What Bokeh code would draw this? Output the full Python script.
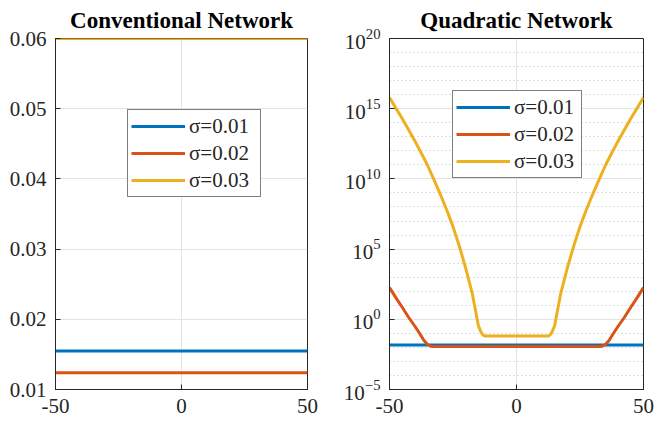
from bokeh.plotting import figure
from bokeh.layouts import row
from bokeh.models import Range1d, FixedTicker, Legend, LegendItem
from bokeh.embed import file_html
from bokeh.resources import INLINE

FONT = "Liberation Serif"
COLORS = ["#0072BD", "#D95319", "#EDB120"]
labels = ["σ=0.01", "σ=0.02", "σ=0.03"]

# Conventional network (left)
conv_x = [-50, 50]
conv_s1 = [0.0155, 0.0155]
conv_s2 = [0.0124, 0.0124]
conv_s3 = [0.06, 0.06]

# Quadratic network (right)
quad_x_s1 = [-50, 50]
quad_s1 = [0.015, 0.015]

quad_x_s2 = [-50, -47.5, -45, -42.5, -40, -38, -36.5, -35, -34, -33, 0,
             33, 34, 35, 36.5, 38, 40, 42.5, 45, 47.5, 50]
quad_s2 = [180, 35, 7.2, 1.4, 0.32, 0.09, 0.032, 0.016, 0.0126, 0.0115, 0.0115,
           0.0115, 0.0126, 0.016, 0.032, 0.09, 0.32, 1.4, 7.2, 35, 180]

quad_x_s3 = [-50, -47.5, -45, -42.5, -40, -37.5, -35, -32.5, -30, -27.5, -25, -22.5,
             -20, -17.5, -16, -15, -14, -13.3, -12.5, 0,
             12.5, 13.3, 14, 15, 16, 17.5, 20, 22.5, 25, 27.5, 30, 32.5, 35, 37.5,
             40, 42.5, 45, 47.5, 50]
quad_s3 = [6.3e15, 1.1e15, 2e14, 3.2e13, 5e12, 7e11, 9e10, 9e9, 8e8, 6.3e7, 4e6, 1.6e5,
           4.5e3, 80, 3.2, 0.35, 0.126, 0.08, 0.065, 0.065,
           0.065, 0.08, 0.126, 0.35, 3.2, 80, 4.5e3, 1.6e5, 4e6, 6.3e7, 8e8, 9e9, 9e10, 7e11,
           5e12, 3.2e13, 2e14, 1.1e15, 6.3e15]

x_ticks = [-50, 0, 50]
x_tick_labels = {-50: "-50", 0: "0", 50: "50"}
conv_y_ticks = [0.01, 0.02, 0.03, 0.04, 0.05, 0.06]
quad_y_ticks = [1e-5, 1e0, 1e5, 1e10, 1e15, 1e20]
quad_y_minor = [10.0 ** k for k in range(-5, 21)]

AX = "#262626"


def style(p, title):
    p.title.text = title
    p.title.text_font = FONT
    p.title.text_font_size = "23px"
    p.title.text_font_style = "bold"
    p.title.align = "center"
    p.title.standoff = 11
    p.title.text_color = "black"
    p.outline_line_color = AX
    p.outline_line_width = 1
    for ax in list(p.xaxis) + list(p.yaxis):
        ax.major_label_text_font = FONT
        ax.major_label_text_font_size = "21px"
        ax.major_label_text_color = AX
        ax.axis_line_color = AX
        ax.major_tick_line_color = AX
        ax.major_tick_in = 5
        ax.major_tick_out = 0
        ax.minor_tick_in = 0
        ax.minor_tick_out = 0
    p.xaxis.major_label_standoff = 9
    p.yaxis.major_label_standoff = 9
    p.xaxis.major_label_overrides = x_tick_labels
    p.xgrid.grid_line_color = "#e3e3e3"
    p.ygrid.grid_line_color = "#e3e3e3"
    p.xgrid.grid_line_width = 1
    p.ygrid.grid_line_width = 1


def legend(p, rs, loc, lw):
    lg = Legend(items=[LegendItem(label=l, renderers=[r]) for l, r in zip(labels, rs)],
                location=loc, label_text_font=FONT, label_text_font_size="21px",
                label_text_color=AX, border_line_color="black", border_line_width=1,
                background_fill_alpha=1.0, glyph_width=54, glyph_height=26, spacing=1,
                padding=3, margin=0, label_standoff=4, label_height=26, label_width=lw)
    p.add_layout(lg, "center")


H = 431
p1 = figure(width=336, height=H, output_backend="svg", toolbar_location=None,
            x_range=Range1d(-50, 50), y_range=Range1d(0.01, 0.06),
            min_border_left=55, min_border_right=29, min_border_top=36, min_border_bottom=42)
p1.xaxis.ticker = FixedTicker(ticks=x_ticks)
p1.yaxis.ticker = FixedTicker(ticks=conv_y_ticks)
p1.yaxis.formatter.use_scientific = False
style(p1, "Conventional Network")
r1 = [p1.line(conv_x, ys, line_color=c, line_width=3) for ys, c in
      zip([conv_s1, conv_s2, conv_s3], COLORS)]
legend(p1, r1, (72, 192), 68)

p2 = figure(width=328, height=H, output_backend="svg", toolbar_location=None,
            x_range=Range1d(-50, 50), y_range=Range1d(1e-5, 1e20), y_axis_type="log",
            min_border_left=53, min_border_right=21, min_border_top=36, min_border_bottom=42)
p2.xaxis.ticker = FixedTicker(ticks=x_ticks)
p2.yaxis.ticker = FixedTicker(ticks=quad_y_ticks, minor_ticks=quad_y_minor)
style(p2, "Quadratic Network")
p2.ygrid.minor_grid_line_color = "#bdbdbd"
p2.ygrid.minor_grid_line_dash = "1 3"
r2 = [p2.line(xs, ys, line_color=c, line_width=3) for xs, ys, c in
      zip([quad_x_s1, quad_x_s2, quad_x_s3], [quad_s1, quad_s2, quad_s3], COLORS)]
legend(p2, r2, (63, 211), 64)

layout = row(p1, p2)
open("out.html", "w").write(file_html(layout, INLINE))
